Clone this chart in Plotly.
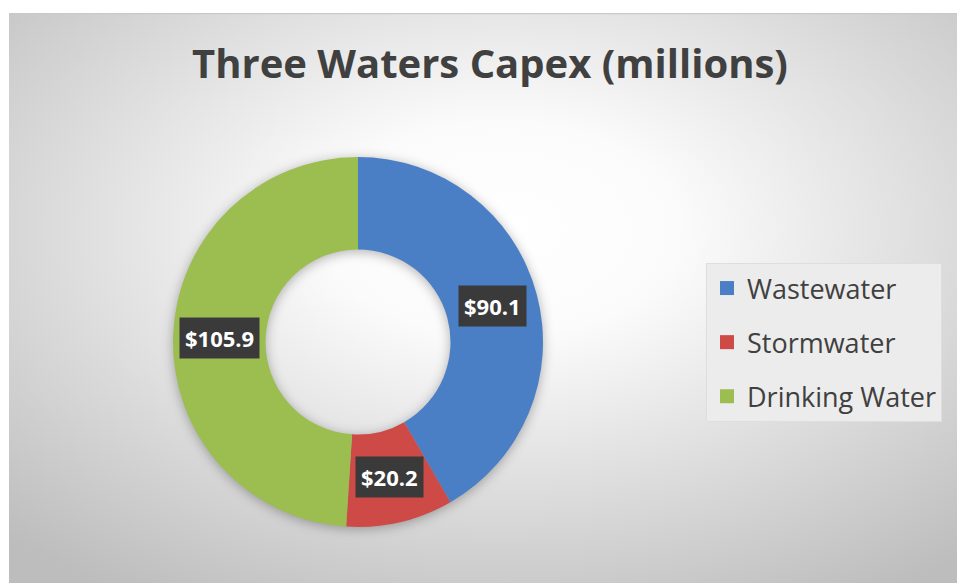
import math
import base64
import plotly.graph_objects as go

# Capital expenditure by water service, in millions of dollars
categories = ["Wastewater", "Stormwater", "Drinking Water"]
values = [90.1, 20.2, 105.9]
value_labels = ["$90.1", "$20.2", "$105.9"]
colors = ["#4B7FC5", "#CD4A47", "#9CBE50"]

W, H = 957, 583
HOLE = 0.5
FONT = "Open Sans, sans-serif"

# donut placement in pixels (paper == full page since margins are zero)
cx_px, cy_px, r_px = 358, 342, 185
dom_x = [(cx_px - r_px) / W, (cx_px + r_px) / W]
dom_y = [1 - (cy_px + r_px) / H, 1 - (cy_px - r_px) / H]

# chart-area background: radial grey gradient plus a soft shadow under the ring
fx, fy = 9, 13
fw, fh = W - fx, H - fy
scx, scy = cx_px - fx, cy_px - fy + 2
ri = r_px * HOLE
ring = (f"M{scx - r_px},{scy} a{r_px},{r_px} 0 1,0 {2 * r_px},0 a{r_px},{r_px} 0 1,0 {-2 * r_px},0 Z "
        f"M{scx - ri},{scy} a{ri},{ri} 0 1,0 {2 * ri},0 a{ri},{ri} 0 1,0 {-2 * ri},0 Z")
svg = f"""<svg xmlns='http://www.w3.org/2000/svg' width='{fw}' height='{fh}' viewBox='0 0 {fw} {fh}'>
<defs>
<radialGradient id='g' cx='0.52' cy='0.38' r='0.75'>
<stop offset='0' stop-color='#ffffff'/>
<stop offset='0.25' stop-color='#fbfbfb'/>
<stop offset='1' stop-color='#bdbdbd'/>
</radialGradient>
<filter id='b' x='-30%' y='-30%' width='160%' height='160%'><feGaussianBlur stdDeviation='6'/></filter>
</defs>
<rect width='{fw}' height='{fh}' fill='url(#g)'/>
<rect x='0' y='0' width='{fw}' height='1.2' fill='#c9c9c9'/>
<path d='{ring}' fill='#000' fill-opacity='0.30' fill-rule='evenodd' filter='url(#b)'/>
</svg>"""
bg_uri = "data:image/svg+xml;base64," + base64.b64encode(svg.encode()).decode()

fig = go.Figure()

fig.add_trace(go.Pie(
    labels=categories,
    values=values,
    hole=HOLE,
    sort=False,
    direction="clockwise",
    rotation=0,
    marker=dict(colors=colors, line=dict(width=0)),
    textinfo="none",
    hoverinfo="label+value",
    showlegend=False,
    domain=dict(x=dom_x, y=dom_y),
))

# legend entries as square swatches
for name, col in zip(categories, colors):
    fig.add_trace(go.Scatter(
        x=[None], y=[None], mode="markers", name=name, legendgroup=name,
        marker=dict(symbol="square", size=14, color=col),
    ))

# dark value boxes on the middle of each ring segment
total = sum(values)
r_mid = r_px * (1 + HOLE) / 2
start = 0.0
annotations = []
for val, txt in zip(values, value_labels):
    mid = start + val / total * 360 / 2
    start += val / total * 360
    th = math.radians(mid)
    px = cx_px + r_mid * math.sin(th)
    py = cy_px - r_mid * math.cos(th)
    annotations.append(dict(
        x=px / W, y=1 - py / H, xref="paper", yref="paper",
        xanchor="center", yanchor="middle",
        text=f"<b>{txt}</b>", showarrow=False,
        font=dict(family=FONT, size=22, color="#ffffff"),
        bgcolor="#3a3a3a", borderpad=5,
    ))

fig.update_layout(
    width=W, height=H,
    margin=dict(l=0, r=0, t=0, b=0),
    paper_bgcolor="#ffffff",
    plot_bgcolor="rgba(0,0,0,0)",
    xaxis=dict(visible=False),
    yaxis=dict(visible=False),
    title=dict(
        text="<b>Three Waters Capex (millions)</b>",
        x=490 / W, xanchor="center",
        y=1 - 64 / H, yanchor="middle",
        font=dict(family=FONT, size=40, color="#404040"),
    ),
    legend=dict(
        x=706 / W, xanchor="left",
        y=1 - 263 / H, yanchor="top",
        bgcolor="#ececec", bordercolor="#dedede", borderwidth=1,
        font=dict(family=FONT, size=27, color="#404040"),
        tracegroupgap=16,
    ),
    annotations=annotations,
    images=[dict(
        source=bg_uri, xref="paper", yref="paper",
        x=fx / W, y=1 - fy / H, sizex=fw / W, sizey=fh / H,
        xanchor="left", yanchor="top", sizing="stretch", layer="below",
    )],
)

fig.write_html("out.html")
